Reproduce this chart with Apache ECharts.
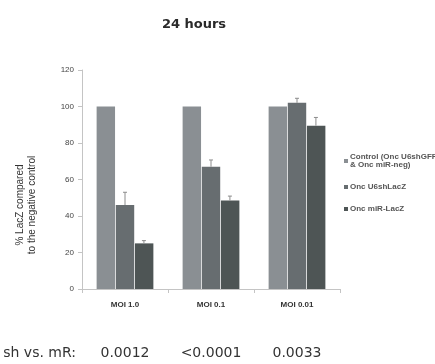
<!DOCTYPE html>
<html><head><meta charset="utf-8">
<script src="https://cdn.jsdelivr.net/npm/echarts@6/dist/echarts.min.js"></script>
<style>html,body{margin:0;padding:0;background:#fff}#c{width:435px;height:364px}</style>
</head><body><div id="c"></div>
<script>
var categories = ['MOI 1.0', 'MOI 0.1', 'MOI 0.01'];
var seriesNames = ['Control (Onc U6shGFP\n& Onc miR-neg)', 'Onc U6shLacZ', 'Onc miR-LacZ'];
var controlVals = [100, 100, 100];
var shLacZVals = [46, 67, 102];
var miRLacZVals = [25, 48.5, 89.5];
var controlErr = [0, 0, 0];
var shLacZErr = [7, 3.7, 2.5];
var miRLacZErr = [1.5, 2.4, 4.5];
var pValueLabel = 'sh vs. mR:';
var pValues = ['0.0012', '<0.0001', '0.0033'];
var yTicks = [0, 20, 40, 60, 80, 100, 120];

var colors = ['#8a8f93', '#676d70', '#4e5555'];
var allVals = [controlVals, shLacZVals, miRLacZVals];
var allErr = [controlErr, shLacZErr, miRLacZErr];

var chart = echarts.init(document.getElementById('c'));
var gridL = 82, gridR = 95, gridT = 70, gridB = 75;
var barSeries = allVals.map(function (v, i) {
  return {
    name: seriesNames[i], type: 'bar', data: v,
    barGap: '4%', barCategoryGap: '34%',
    itemStyle: { color: colors[i] },
    emphasis: { disabled: true }
  };
});
var errSeries = allErr.map(function (e, i) {
  return {
    type: 'custom', silent: true, z: 5,
    data: e.map(function (d, j) { return [j, allVals[i][j], d]; }),
    renderItem: function (params, api) {
      var err = api.value(2);
      if (!err) return null;
      var c = api.value(0);
      var top = api.coord([c, api.value(1)]);
      var hi = api.coord([c, api.value(1) + err]);
      var bw = api.size([1, 0])[0];
      var groupW = bw * 0.66;
      var w = groupW / 3;
      var x = top[0] - groupW / 2 + w * (i + 0.5);
      return {
        type: 'group', children: [
          { type: 'line', shape: { x1: x, y1: top[1], x2: x, y2: hi[1] }, style: { stroke: '#8c8c8c', lineWidth: 1 } },
          { type: 'line', shape: { x1: x - 2, y1: hi[1], x2: x + 2, y2: hi[1] }, style: { stroke: '#8c8c8c', lineWidth: 1 } }
        ]
      };
    }
  };
});

var plotW = 435 - gridL - gridR;
var catW = plotW / categories.length;
var graphics = [
  { type: 'text', x: 194, y: 25, style: { text: '24 hours', font: 'bold 13px "DejaVu Sans"', fill: '#2a2a2a', align: 'center', verticalAlign: 'middle' } },
  { type: 'text', x: 20, y: 205, rotation: Math.PI / 2, style: { text: '% LacZ compared', font: '10px "Liberation Sans", Arial', fill: '#333', align: 'center', verticalAlign: 'middle' } },
  { type: 'text', x: 32, y: 205, rotation: Math.PI / 2, style: { text: 'to the negative control', font: '10px "Liberation Sans", Arial', fill: '#333', align: 'center', verticalAlign: 'middle' } },
  { type: 'text', x: 76, y: 353, style: { text: pValueLabel, font: '14px "DejaVu Sans"', fill: '#333', align: 'right', verticalAlign: 'middle' } }
];
pValues.forEach(function (p, j) {
  graphics.push({ type: 'text', x: gridL + catW * (j + 0.5), y: 353, style: { text: p, font: '14px "DejaVu Sans"', fill: '#333', align: 'center', verticalAlign: 'middle' } });
});

chart.setOption({
  animation: false,
  backgroundColor: '#fff',
  grid: { left: gridL, right: gridR, top: gridT, bottom: gridB },
  legend: {
    data: seriesNames, orient: 'vertical', left: 344, top: 153, padding: 0,
    itemWidth: 4, itemHeight: 4, itemGap: 14, icon: 'rect',
    textStyle: { fontSize: 8, fontWeight: 'bold', color: '#555', fontFamily: '"Liberation Sans", Arial', lineHeight: 8, padding: [0, 0, 0, -3] },
    selectedMode: false
  },
  xAxis: {
    type: 'category', data: categories,
    axisLine: { lineStyle: { color: '#c4c4c4' } },
    axisTick: { show: true, length: 4, lineStyle: { color: '#c4c4c4' } },
    axisLabel: { fontSize: 8, fontWeight: 'bold', color: '#333', margin: 12, fontFamily: '"Liberation Sans", Arial' }
  },
  yAxis: {
    type: 'value', min: 0, max: 120, interval: 20,
    axisLine: { show: true, lineStyle: { color: '#c4c4c4' } },
    axisTick: { show: true, length: 4, lineStyle: { color: '#c4c4c4' } },
    splitLine: { show: false },
    axisLabel: { fontSize: 8, color: '#444', margin: 8, fontFamily: '"Liberation Sans", Arial',
      formatter: function (v) { return yTicks.indexOf(v) >= 0 ? String(v) : ''; } }
  },
  series: barSeries.concat(errSeries),
  graphic: graphics
});
</script></body></html>
